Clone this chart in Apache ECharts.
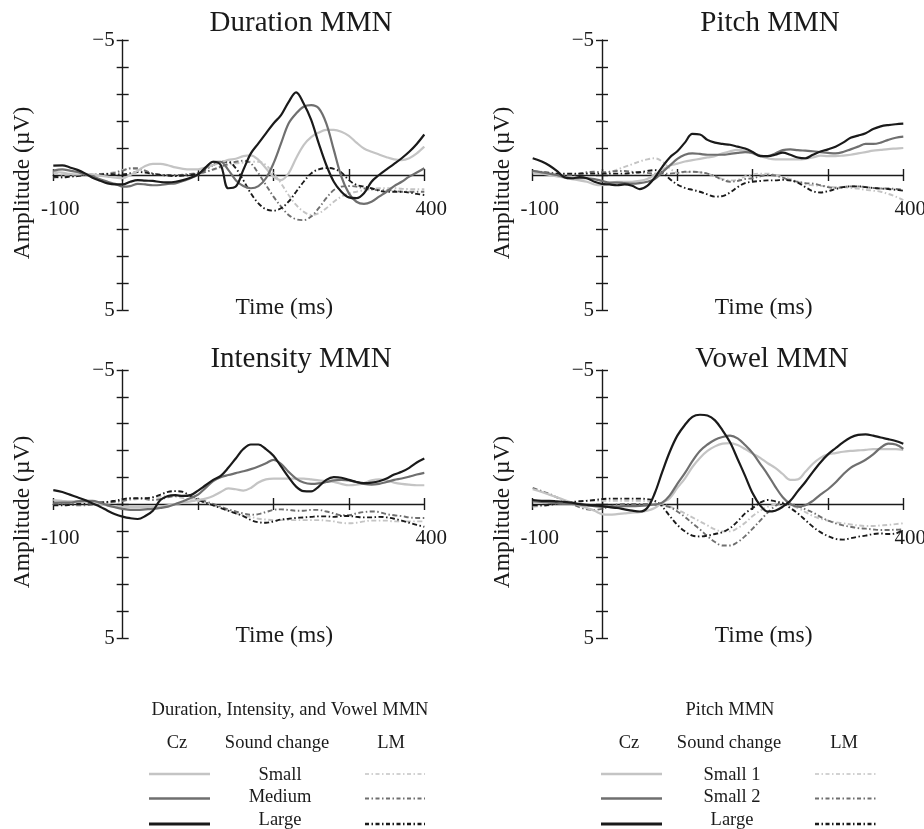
<!DOCTYPE html>
<html>
<head>
<meta charset="utf-8">
<script src="https://cdn.jsdelivr.net/npm/echarts@6/dist/echarts.min.js"></script>
<style>
  html, body { margin: 0; padding: 0; background: #fff; }
  #chart { width: 924px; height: 829px; }
</style>
</head>
<body>
<div id="chart"></div>
<script>
    /*---- time points (ms) ----*/
    var times = [-92, -80, -70, -60, -50, -40, -30, -20, -10, 0,
        10, 20, 30, 40, 50, 60, 70, 80, 90, 100,
        110, 120, 130, 140, 150, 160, 170, 180, 190, 200,
        210, 220, 230, 240, 250, 260, 270, 280, 290, 300,
        310, 320, 330, 340, 350, 360, 370, 380, 390, 400];

    /*---- Duration MMN (uV) ----*/
    var durCzSmall = [-0.12,-0.09,-0.04,-0.02,-0.04,-0.02,0.02,0.06,0.1,0.12,
        0,-0.16,-0.33,-0.41,-0.41,-0.36,-0.28,-0.23,-0.21,-0.21,
        -0.28,-0.37,-0.46,-0.56,-0.6,-0.7,-0.73,-0.56,-0.25,0.06,
        0.19,-0.06,-0.62,-1.11,-1.4,-1.57,-1.67,-1.67,-1.6,-1.45,
        -1.2,-0.98,-0.86,-0.76,-0.66,-0.58,-0.55,-0.62,-0.8,-1.05];
    var durCzMedium = [-0.16,-0.21,-0.16,-0.11,-0.02,0.05,0.16,0.25,0.33,0.43,
        0.41,0.33,0.35,0.38,0.37,0.33,0.31,0.22,0.12,-0.02,
        -0.25,-0.49,-0.49,-0.19,0.19,0.41,0.49,0.41,0.12,-0.43,
        -1.17,-1.91,-2.28,-2.53,-2.59,-2.47,-1.91,-0.93,0.06,0.68,
        0.99,1.07,0.99,0.8,0.62,0.41,0.25,0.06,-0.09,-0.25];
    var durCzLarge = [-0.35,-0.36,-0.28,-0.19,-0.06,0.1,0.21,0.31,0.35,0.35,
        0.25,0.19,0.21,0.22,0.26,0.27,0.25,0.19,0.1,-0.02,
        -0.28,-0.49,-0.37,0.49,0.43,-0.19,-0.8,-1.17,-1.54,-1.91,
        -2.22,-2.7,-3.06,-2.65,-2.04,-1.17,-0.37,0.25,0.62,0.83,
        0.86,0.68,0.25,0,-0.21,-0.41,-0.62,-0.86,-1.15,-1.5];
    var durLmSmall = [-0.06,-0.01,0.02,0.04,0.01,-0.01,-0.04,-0.06,-0.11,-0.19,
        -0.23,-0.21,-0.12,-0.05,-0.01,0,0,-0.01,-0.04,-0.06,
        -0.11,-0.19,-0.28,-0.37,-0.43,-0.46,-0.49,-0.49,-0.37,-0.06,
        0.31,0.74,1.11,1.36,1.48,1.42,1.23,0.99,0.8,0.68,
        0.62,0.56,0.53,0.49,0.49,0.49,0.51,0.52,0.53,0.53];
    var durLmMedium = [0.09,0.06,0.04,0.02,0,0,-0.01,-0.04,-0.09,-0.16,
        -0.25,-0.25,-0.16,-0.06,-0.01,0,0,-0.01,-0.04,-0.06,
        -0.12,-0.21,-0.31,-0.41,-0.49,-0.53,-0.43,-0.06,0.37,0.8,
        1.17,1.48,1.64,1.67,1.54,1.23,0.86,0.56,0.43,0.41,
        0.43,0.49,0.53,0.56,0.56,0.58,0.62,0.62,0.62,0.62];
    var durLmLarge = [0.06,0.09,0.06,0.04,0,-0.01,-0.02,-0.04,-0.02,-0.02,
        -0.06,-0.11,-0.09,-0.04,0,0.02,0.04,0.02,0,-0.06,
        -0.21,-0.37,-0.49,-0.49,-0.25,0.19,0.68,1.05,1.27,1.32,
        1.23,0.99,0.62,0.25,-0.06,-0.21,-0.26,-0.23,-0.09,0.19,
        0.37,0.43,0.49,0.58,0.62,0.62,0.62,0.65,0.7,0.74];

    /*---- Pitch MMN (uV) ----*/
    var pitchCzSmall1 = [-0.1,-0.05,0,0.05,0.1,0.15,0.2,0.25,0.35,0.38,
        0.3,0.25,0.25,0.25,0.22,0.15,0,-0.2,-0.35,-0.42,
        -0.5,-0.55,-0.6,-0.65,-0.7,-0.8,-0.88,-0.93,-0.9,-0.8,
        -0.7,-0.62,-0.58,-0.58,-0.58,-0.58,-0.6,-0.65,-0.72,-0.7,
        -0.7,-0.72,-0.75,-0.8,-0.85,-0.9,-0.93,-0.96,-0.98,-1.0];
    var pitchCzSmall2 = [-0.15,-0.1,-0.05,0,0.08,0.12,0.12,0.12,0.15,0.22,
        0.28,0.28,0.3,0.32,0.3,0.25,0.15,-0.1,-0.35,-0.6,
        -0.75,-0.8,-0.78,-0.75,-0.75,-0.75,-0.78,-0.82,-0.85,-0.82,
        -0.72,-0.7,-0.8,-0.92,-0.95,-0.92,-0.9,-0.88,-0.85,-0.82,
        -0.8,-0.85,-0.95,-1.05,-1.15,-1.15,-1.2,-1.3,-1.38,-1.42];
    var pitchCzLarge = [-0.62,-0.5,-0.35,-0.15,0.08,0.12,0.08,0.12,0.25,0.33,
        0.35,0.38,0.35,0.4,0.52,0.4,0.1,-0.3,-0.65,-0.88,
        -1.2,-1.52,-1.5,-1.3,-1.2,-1.15,-1.12,-1.05,-0.98,-0.85,
        -0.7,-0.7,-0.75,-0.83,-0.75,-0.65,-0.62,-0.75,-0.87,-0.95,
        -1.05,-1.2,-1.38,-1.46,-1.55,-1.7,-1.8,-1.85,-1.88,-1.9];
    var pitchLmSmall1 = [-0.15,-0.12,-0.1,-0.05,0,-0.02,-0.05,-0.08,-0.08,-0.08,
        -0.1,-0.2,-0.3,-0.4,-0.5,-0.58,-0.62,-0.5,-0.25,-0.08,
        -0.1,-0.12,-0.1,-0.05,0.05,0.15,0.2,0.18,0.05,-0.02,
        -0.05,-0.05,0,0.08,0.15,0.25,0.35,0.38,0.4,0.42,
        0.45,0.45,0.48,0.5,0.55,0.58,0.62,0.7,0.8,0.93];
    var pitchLmSmall2 = [-0.12,-0.08,-0.05,0,0.02,0,-0.05,-0.1,-0.12,-0.1,
        -0.12,-0.15,-0.15,-0.12,-0.1,-0.08,-0.05,-0.05,-0.05,-0.08,
        -0.12,-0.12,-0.1,-0.05,0.05,0.18,0.25,0.22,0.15,0.12,
        0.05,0,0.02,0.1,0.2,0.25,0.3,0.32,0.38,0.45,
        0.48,0.45,0.42,0.42,0.45,0.48,0.5,0.5,0.52,0.55];
    var pitchLmLarge = [-0.1,-0.1,-0.08,-0.05,-0.05,-0.05,-0.05,-0.05,-0.05,-0.05,
        -0.05,-0.05,-0.05,-0.08,-0.1,-0.15,-0.18,-0.1,0.15,0.35,
        0.48,0.55,0.62,0.72,0.8,0.78,0.65,0.45,0.3,0.25,
        0.22,0.2,0.2,0.18,0.2,0.28,0.45,0.6,0.65,0.6,
        0.52,0.45,0.42,0.42,0.45,0.48,0.5,0.52,0.55,0.58];

    /*---- Intensity MMN (uV) ----*/
    var intCzSmall = [-0.15,-0.12,-0.1,-0.1,-0.08,-0.05,0,0.05,0.1,0.12,
        0.12,0.12,0.12,0.12,0.1,0.05,0,-0.05,-0.1,-0.15,
        -0.2,-0.3,-0.45,-0.58,-0.55,-0.5,-0.6,-0.8,-0.92,-0.95,
        -0.95,-0.95,-0.95,-0.95,-0.92,-0.88,-0.85,-0.82,-0.75,-0.7,
        -0.72,-0.78,-0.88,-0.92,-0.88,-0.8,-0.75,-0.72,-0.7,-0.7];
    var intCzMedium = [-0.05,-0.05,-0.05,-0.1,-0.12,-0.12,-0.05,0.05,0.12,0.18,
        0.22,0.22,0.2,0.18,0.15,0.1,0,-0.1,-0.22,-0.35,
        -0.6,-0.85,-1.0,-1.08,-1.15,-1.22,-1.3,-1.4,-1.52,-1.65,
        -1.5,-1.2,-0.95,-0.8,-0.75,-0.77,-0.82,-0.88,-0.9,-0.88,
        -0.82,-0.75,-0.72,-0.75,-0.82,-0.9,-0.95,-1.02,-1.1,-1.16];
    var intCzLarge = [-0.52,-0.45,-0.35,-0.25,-0.15,-0.02,0.1,0.25,0.38,0.47,
        0.53,0.56,0.45,0.25,-0.15,-0.3,-0.33,-0.3,-0.33,-0.5,
        -0.7,-0.9,-1.05,-1.35,-1.7,-2.05,-2.22,-2.22,-2.05,-1.8,
        -1.4,-1.0,-0.65,-0.48,-0.47,-0.65,-0.9,-1.0,-0.98,-0.9,
        -0.82,-0.78,-0.8,-0.85,-0.95,-1.1,-1.2,-1.35,-1.55,-1.7];
    var intLmSmall = [0.02,0,-0.02,-0.05,-0.08,-0.08,-0.08,-0.08,-0.1,-0.12,
        -0.15,-0.18,-0.22,-0.25,-0.28,-0.3,-0.28,-0.22,-0.15,-0.1,
        -0.05,0.05,0.15,0.25,0.35,0.42,0.48,0.55,0.58,0.6,
        0.6,0.6,0.6,0.6,0.6,0.6,0.62,0.65,0.7,0.72,
        0.7,0.65,0.62,0.62,0.62,0.65,0.65,0.65,0.65,0.65];
    var intLmMedium = [0,0,0.02,0.05,0.05,0.02,-0.02,-0.05,-0.08,-0.12,
        -0.18,-0.2,-0.18,-0.15,-0.18,-0.25,-0.3,-0.3,-0.28,-0.2,
        -0.1,0,0.1,0.2,0.28,0.35,0.4,0.38,0.3,0.22,
        0.2,0.22,0.25,0.25,0.22,0.22,0.28,0.35,0.42,0.42,
        0.35,0.3,0.28,0.3,0.38,0.42,0.45,0.5,0.52,0.52];
    var intLmLarge = [0.05,0.05,0.03,0,-0.02,-0.03,-0.05,-0.08,-0.12,-0.18,
        -0.22,-0.22,-0.22,-0.25,-0.35,-0.45,-0.48,-0.45,-0.3,-0.15,
        -0.05,0.05,0.15,0.25,0.35,0.45,0.6,0.68,0.7,0.65,
        0.58,0.55,0.52,0.5,0.48,0.46,0.46,0.48,0.45,0.45,
        0.48,0.5,0.5,0.48,0.5,0.55,0.62,0.7,0.78,0.85];

    /*---- Vowel MMN (uV) ----*/
    var vowCzSmall = [-0.55,-0.45,-0.35,-0.25,-0.15,-0.05,0.05,0.15,0.25,0.38,
        0.4,0.38,0.35,0.32,0.3,0.25,0.15,-0.05,-0.22,-0.6,
        -0.95,-1.38,-1.72,-1.98,-2.15,-2.25,-2.27,-2.2,-2.05,-1.88,
        -1.72,-1.52,-1.35,-1.12,-0.9,-0.92,-1.2,-1.5,-1.72,-1.85,
        -1.9,-1.95,-1.98,-2.0,-2.02,-2.05,-2.05,-2.05,-2.05,-2.02];
    var vowCzMedium = [-0.1,-0.08,-0.05,-0.03,0,0,0.02,0.05,0.08,0.1,
        0.1,0.1,0.08,0.08,0.07,0.05,0.02,-0.05,-0.32,-0.75,
        -1.15,-1.6,-1.98,-2.22,-2.4,-2.5,-2.55,-2.45,-2.2,-1.9,
        -1.5,-1.1,-0.65,-0.25,0,0.1,0.05,-0.12,-0.35,-0.55,
        -0.8,-1.1,-1.35,-1.5,-1.65,-1.85,-2.1,-2.25,-2.22,-2.06];
    var vowCzLarge = [-0.15,-0.12,-0.12,-0.1,-0.08,-0.05,0,0.03,0.05,0.08,
        0.12,0.15,0.2,0.25,0.28,0.15,-0.4,-1.2,-1.95,-2.55,
        -2.95,-3.25,-3.33,-3.3,-3.12,-2.75,-2.3,-1.68,-1.05,-0.4,
        0.05,0.28,0.25,0.1,-0.12,-0.48,-0.82,-1.2,-1.55,-1.85,
        -2.08,-2.3,-2.48,-2.58,-2.6,-2.55,-2.48,-2.42,-2.35,-2.25];
    var vowLmSmall = [0.1,0.08,0.05,0.02,0,-0.05,-0.1,-0.12,-0.12,-0.12,
        -0.12,-0.12,-0.12,-0.12,-0.12,-0.1,-0.05,0.02,0.1,0.22,
        0.35,0.5,0.65,0.8,0.95,1.02,1.02,0.9,0.7,0.45,
        0.25,0.1,0.02,0,0.05,0.15,0.3,0.45,0.55,0.62,
        0.68,0.72,0.76,0.8,0.82,0.82,0.8,0.78,0.75,0.72];
    var vowLmMedium = [-0.6,-0.48,-0.38,-0.25,-0.12,0,0.12,0.2,0.22,0.18,
        0.1,0.02,0,0,0,0,0.02,0.05,0.12,0.28,
        0.48,0.72,0.95,1.2,1.42,1.55,1.55,1.42,1.2,0.92,
        0.62,0.32,0.08,-0.05,-0.02,0.08,0.2,0.32,0.48,0.62,
        0.72,0.8,0.85,0.9,0.92,0.95,0.97,0.97,0.96,0.95];
    var vowLmLarge = [0.05,0.05,0.03,0,-0.03,-0.07,-0.1,-0.12,-0.15,-0.18,
        -0.2,-0.2,-0.2,-0.2,-0.2,-0.18,-0.12,0.1,0.45,0.78,
        1.02,1.18,1.21,1.18,1.12,1.05,0.9,0.65,0.35,0.15,
        -0.05,-0.15,-0.1,-0.02,0.15,0.35,0.6,0.85,1.05,1.2,
        1.3,1.33,1.28,1.22,1.18,1.12,1.1,1.12,1.1,0.95];

    /*---- axis ticks / labels ----*/
    var xTickValues = [-92, 0, 100, 200, 300, 400];
    var xLabelValues = [-92, 400];
    var xLabelText = ['-100', '400'];
    var yLabelValues = [-5, 5];
    var yLabelText = ['\u22125', '5'];

    var panelTitles = ['Duration MMN', 'Pitch MMN', 'Intensity MMN', 'Vowel MMN'];
    var legendRowsA = ['Small', 'Medium', 'Large'];
    var legendRowsB = ['Small 1', 'Small 2', 'Large'];

    var grayLevels = ['#c4c4c4', '#6f6f6f', '#1a1a1a'];
    var lmDash = [5, 2.5, 1.5, 2.5];
    var serif = '"Liberation Serif", "Times New Roman", serif';
    var ink = '#1a1a1a';

    var panels = [
        { rect: { left: 53.3, top: 40, width: 371, height: 270 }, titleX: 301, titleY: 23.5,
          cz: [durCzSmall, durCzMedium, durCzLarge], lm: [durLmSmall, durLmMedium, durLmLarge] },
        { rect: { left: 532.7, top: 40, width: 370.6, height: 270 }, titleX: 770, titleY: 23.5,
          cz: [pitchCzSmall1, pitchCzSmall2, pitchCzLarge], lm: [pitchLmSmall1, pitchLmSmall2, pitchLmLarge] },
        { rect: { left: 53.3, top: 370, width: 371, height: 268 }, titleX: 301, titleY: 359,
          cz: [intCzSmall, intCzMedium, intCzLarge], lm: [intLmSmall, intLmMedium, intLmLarge] },
        { rect: { left: 532.7, top: 370, width: 370.6, height: 268 }, titleX: 772, titleY: 359,
          cz: [vowCzSmall, vowCzMedium, vowCzLarge], lm: [vowLmSmall, vowLmMedium, vowLmLarge] }
    ];

    var axisLineStyle = { color: ink, width: 1.4 };

    function pairs(values) {
        return times.map(function (t, i) { return [t, values[i]]; });
    }

    var grids = [], xAxes = [], yAxes = [], series = [], graphics = [];

    panels.forEach(function (p, i) {
        var r = p.rect;
        var zeroX = r.width * 92 / 492;
        grids.push({ left: r.left, top: r.top, width: r.width, height: r.height,
            containLabel: false, outerBoundsMode: 'none' });

        // main x axis (ticks down, labels)
        xAxes.push({
            type: 'value', gridIndex: i, min: -92, max: 400, position: 'bottom',
            axisLine: { onZero: true, lineStyle: axisLineStyle },
            axisTick: { customValues: xTickValues, length: 6, lineStyle: axisLineStyle },
            axisLabel: {
                customValues: xLabelValues,
                formatter: function (v) { return v < 0 ? xLabelText[0] : xLabelText[1]; },
                margin: 24 - r.height / 2, padding: [0, 0, 0, 14],
                color: ink, fontFamily: serif, fontSize: 21
            },
            splitLine: { show: false }
        });
        // ghost x axis (ticks up)
        xAxes.push({
            type: 'value', gridIndex: i, min: -92, max: 400, position: 'top',
            axisLine: { onZero: true, lineStyle: { color: ink, width: 1.4, opacity: 0 } },
            axisTick: { customValues: xTickValues, length: 6, lineStyle: axisLineStyle },
            axisLabel: { show: false },
            splitLine: { show: false }
        });
        // main y axis (ticks left, labels)
        yAxes.push({
            type: 'value', gridIndex: i, min: -5, max: 5, interval: 1, inverse: true, position: 'left',
            axisLine: { onZero: true, lineStyle: axisLineStyle },
            axisTick: { length: 6, lineStyle: axisLineStyle },
            axisLabel: {
                customValues: yLabelValues,
                formatter: function (v) { return v < 0 ? yLabelText[0] : yLabelText[1]; },
                margin: 8 - zeroX,
                color: ink, fontFamily: serif, fontSize: 21
            },
            splitLine: { show: false }
        });
        // ghost y axis (ticks right)
        yAxes.push({
            type: 'value', gridIndex: i, min: -5, max: 5, interval: 1, inverse: true, position: 'right',
            axisLine: { onZero: true, lineStyle: { color: ink, width: 1.4, opacity: 0 } },
            axisTick: { length: 6, lineStyle: axisLineStyle },
            axisLabel: { show: false },
            splitLine: { show: false }
        });

        p.lm.forEach(function (vals, k) {
            series.push({
                type: 'line', xAxisIndex: i * 2, yAxisIndex: i * 2, data: pairs(vals),
                showSymbol: false, symbol: 'none', smooth: 0.35, silent: true, z: 2,
                lineStyle: { color: grayLevels[k], width: 1.9, type: lmDash }
            });
        });
        p.cz.forEach(function (vals, k) {
            series.push({
                type: 'line', xAxisIndex: i * 2, yAxisIndex: i * 2, data: pairs(vals),
                showSymbol: false, symbol: 'none', smooth: 0.35, silent: true, z: 3,
                lineStyle: { color: grayLevels[k], width: 2.2 }
            });
        });

        // titles and axis names
        graphics.push({ type: 'text', x: p.titleX, y: p.titleY,
            style: { text: panelTitles[i], fill: ink, fontFamily: serif, fontSize: 29, align: 'center', verticalAlign: 'middle' } });
        graphics.push({ type: 'text', x: r.left + 231, y: r.top + r.height - 2,
            style: { text: 'Time (ms)', fill: ink, fontFamily: serif, fontSize: 23.5, align: 'center', verticalAlign: 'middle' } });
        graphics.push({ type: 'text', x: r.left - 30, y: r.top + r.height / 2 + 8, rotation: Math.PI / 2,
            style: { text: 'Amplitude (\u00b5V)', fill: ink, fontFamily: serif, fontSize: 23.5, align: 'center', verticalAlign: 'middle' } });
    });

    /*---- legend blocks ----*/
    function legendBlock(title, rows, o) {
        var f = { fill: ink, fontFamily: serif, fontSize: 18.5, align: 'center', verticalAlign: 'middle' };
        function txt(s, x, y) { graphics.push({ type: 'text', x: x, y: y, style: Object.assign({ text: s }, f) }); }
        txt(title, o.titleX, 710);
        txt('Cz', o.czX, 743);
        txt('Sound change', o.labelX, 743);
        txt('LM', o.lmX, 743);
        var textY = [775, 797, 820];
        var lineY = [774, 798.5, 824];
        var czW = [2.4, 2.4, 3];
        var lmW = [1.5, 2, 2.4];
        rows.forEach(function (s, k) {
            txt(s, o.labelX + 3, textY[k]);
            graphics.push({ type: 'line', shape: { x1: o.czLine[0], y1: lineY[k], x2: o.czLine[1], y2: lineY[k] },
                style: { stroke: grayLevels[k], lineWidth: czW[k] } });
            graphics.push({ type: 'line', shape: { x1: o.lmLine[0], y1: lineY[k], x2: o.lmLine[1], y2: lineY[k] },
                style: { stroke: grayLevels[k], lineWidth: lmW[k], lineDash: [4, 2.5, 1.5, 2.5] } });
        });
    }
    legendBlock('Duration, Intensity, and Vowel MMN', legendRowsA,
        { titleX: 290, czX: 177, labelX: 277, lmX: 391, czLine: [149, 210], lmLine: [365, 425] });
    legendBlock('Pitch MMN', legendRowsB,
        { titleX: 730, czX: 629, labelX: 729, lmX: 844, czLine: [601, 662], lmLine: [815, 877] });

    var option = {
        animation: false,
        backgroundColor: '#ffffff',
        grid: grids,
        xAxis: xAxes,
        yAxis: yAxes,
        series: series,
        graphic: { elements: graphics }
    };

    var chart = echarts.init(document.getElementById('chart'), null, { renderer: 'canvas' });
    chart.setOption(option);
</script>
</body>
</html>
